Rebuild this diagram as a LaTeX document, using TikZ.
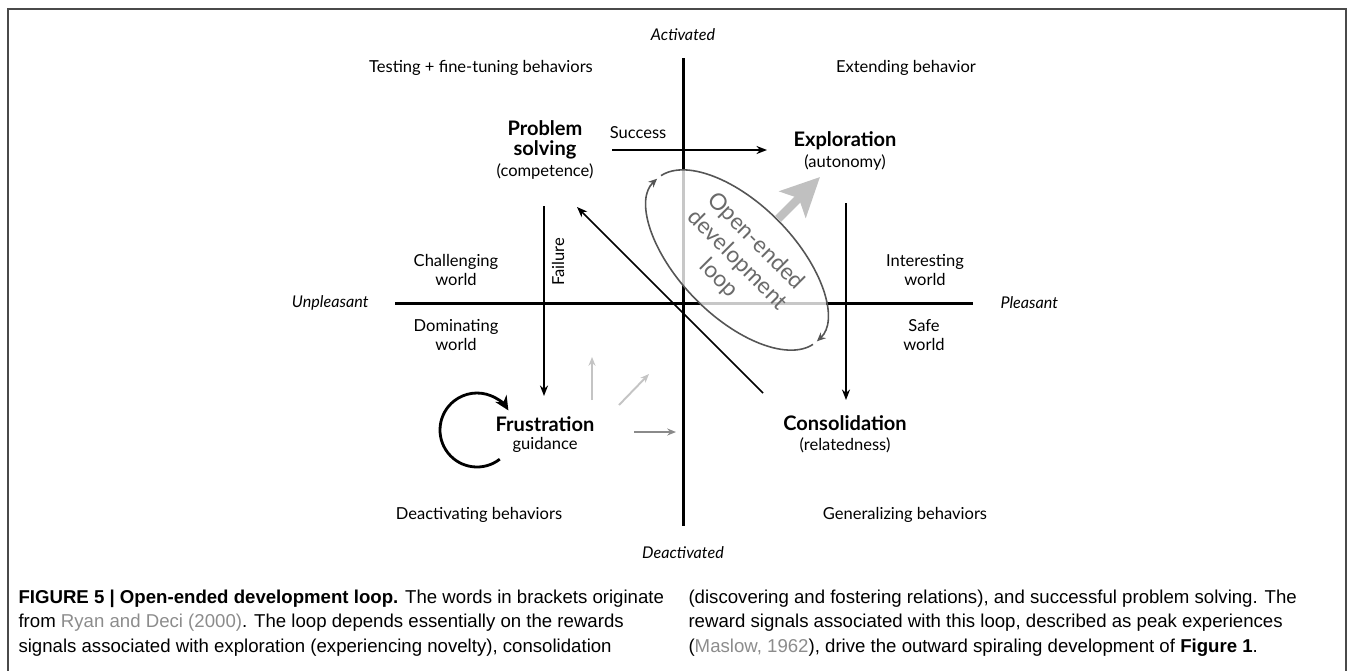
\documentclass[tikz,border=0pt]{standalone}
\usepackage{fontspec}
\setmainfont{Lato}
\newfontfamily\capfont{Liberation Sans}
\usepackage{xcolor}
\usetikzlibrary{arrows.meta,calc,positioning}
\definecolor{framecol}{HTML}{4A4A4A}
\definecolor{loopgray}{HTML}{555555}
\definecolor{looptext}{HTML}{6A6A6A}
\definecolor{lightarr}{HTML}{C4C4C4}
\definecolor{midarr}{HTML}{8A8A8A}
\definecolor{bigarr}{HTML}{C0C0C0}
\definecolor{reftxt}{HTML}{8C8C8C}

\begin{document}
\begin{tikzpicture}[x=0.02cm,y=-0.02cm,semithick]
 \tikzstyle{lab}=[inner sep=0pt,align=center,font=\fontsize{9.4}{11.3}\selectfont]
 \tikzstyle{axlab}=[inner sep=0pt,font=\fontsize{9.2}{11}\selectfont\itshape]
 \tikzstyle{hd}=[inner sep=0pt,align=center,font=\fontsize{11.4}{11.4}\selectfont\bfseries]
 \tikzstyle{axis}=[line width=1.7pt]
 \tikzstyle{arr}=[line width=0.85pt,-{Stealth[length=6pt,width=4.6pt]}]
 \tikzstyle{ring}=[draw=loopgray,line width=0.9pt,-{Stealth[length=5pt,width=4.4pt]}]
 \tikzstyle{selfloop}=[line width=1.6pt,-{Stealth[length=8pt,width=7.5pt]}]
 \tikzstyle{hint}=[line width=1.1pt,draw=lightarr,-{Stealth[length=5pt,width=4pt]}]
 \tikzstyle{bigarrow}=[line width=4.8pt,draw=bigarr,-{Stealth[length=22pt,width=21pt,inset=5pt]}]
 \tikzstyle{capbox}=[inner sep=0pt,anchor=north west,align=left,font=\capfont\fontsize{10.6}{14}\selectfont]

 \useasboundingbox (0,0) rectangle (1355,670);

 % frame
 \draw[framecol,line width=1pt] (8,675) -- (8,9) -- (1346,9) -- (1346,675);

 % axes
 \coordinate (atop) at (683,58);
 \coordinate (abot) at (683,526);
 \coordinate (alft) at (395,303);
 \coordinate (argt) at (973,303);
 \path (atop) edge[axis] (abot)
       (alft) edge[axis] (argt);

 % loop
 \coordinate (ctr) at (737,260);
 \begin{scope}
  \clip (681,305) rectangle (1000,100);
  \begin{scope}[shift={(ctr)},rotate=-45]
   \fill[white,fill opacity=.78] (0,0) ellipse [x radius=114,y radius=57];
  \end{scope}
 \end{scope}
 \begin{scope}[shift={(ctr)},rotate=-45]
  \draw[ring] (6:114 and 57) arc[start angle=6,end angle=181,x radius=114,y radius=57];
  \draw[ring] (186:114 and 57) arc[start angle=186,end angle=361,x radius=114,y radius=57];
 \end{scope}
 \coordinate (bgs) at (778,219);
 \coordinate (bge) at (820,177);
 \path (bgs) edge[bigarrow] (bge);

 % arrows
 \coordinate (succs) at (612,150);
 \coordinate (succe) at (767,150);
 \coordinate (fails) at (544,206);
 \coordinate (faile) at (544,396);
 \coordinate (conss) at (846,203);
 \coordinate (conse) at (846,400);
 \coordinate (diags) at (763,393);
 \coordinate (diage) at (577,207);
 \path (succs) edge[arr] (succe)
       (fails) edge[arr] (faile)
       (conss) edge[arr] (conse)
       (diags) edge[arr] (diage);

 \coordinate (h1s) at (592,400);
 \coordinate (h1e) at (592,357);
 \coordinate (h2s) at (619,405);
 \coordinate (h2e) at (649,374);
 \coordinate (h3s) at (634,432);
 \coordinate (h3e) at (676,432);
 \path (h1s) edge[hint] (h1e)
       (h2s) edge[hint] (h2e)
       (h3s) edge[hint,draw=midarr] (h3e);

 \coordinate (lc) at (477,430);
 \draw[selfloop] ([shift={(52:37)}]lc) arc[start angle=52,end angle=328,radius=37];

 % labels
 \node[axlab] (act) at (683,35) {Activated};
 \node[axlab] (deact) at (683,553) {Deactivated};
 \node[axlab,anchor=east] (unpl) at (369,303) {Unpleasant};
 \node[axlab,anchor=west] (pleas) at (1000,303) {Pleasant};

 \node[lab] (testb) at (481,68) {Testing + fine-tuning behaviors};
 \node[lab] (extb) at (906,68) {Extending behavior};
 \node[lab] (deacb) at (479,515) {Deactivating behaviors};
 \node[lab] (genb) at (905,515) {Generalizing behaviors};

 \node[hd] (prob) at (545,140) {Problem\\solving};
 \node[lab] (comp) [below of=prob,node distance=0.64cm] {(competence)};
 \node[lab] (succ) at (638,133) {Success};
 \node[hd] (expl) at (845,141) {Exploration};
 \node[lab] (auto) [below of=expl,node distance=0.44cm] {(autonomy)};
 \node[lab] (chal) at (456,270) {Challenging\\world};
 \node[lab] (domw) at (456,335) {Dominating\\world};
 \node[lab] (intw) at (925,270) {Interesting\\world};
 \node[lab] (safe) at (924,335) {Safe\\world};
 \node[lab,rotate=90] (fail) at (558,262) {Failure};
 \node[hd] (frus) at (545,424) {Frustration};
 \node[lab] (guid) [below of=frus,node distance=0.42cm] {guidance};
 \node[hd] (cons) at (845,423) {Consolidation};
 \node[lab] (rel) [below of=cons,node distance=0.44cm] {(relatedness)};
 \node[inner sep=0pt,align=center,text=looptext,rotate=-45,font=\fontsize{13}{15}\selectfont] (ltxt) at (ctr) {Open-ended\\development\\loop};

 % caption
 \node[capbox] (capl) at (18,589) {\textbf{FIGURE 5 | Open-ended development loop.} The words in brackets originate\\
  from \textcolor{reftxt}{Ryan and Deci (2000)}. The loop depends essentially on the rewards\\
  signals associated with exploration (experiencing novelty), consolidation};
 \node[capbox] (capr) at (688,589) {(discovering and fostering relations), and successful problem solving. The\\
  reward signals associated with this loop, described as peak experiences\\
  (\textcolor{reftxt}{Maslow, 1962}), drive the outward spiraling development of \textbf{Figure 1}.};
\end{tikzpicture}
\end{document}
